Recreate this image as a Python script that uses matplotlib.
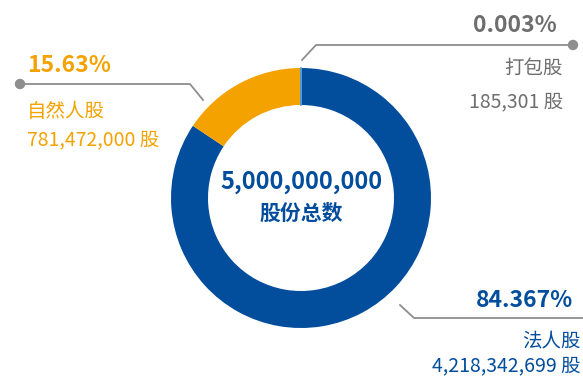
import matplotlib
matplotlib.use("Agg")
import matplotlib.pyplot as plt
from matplotlib.patches import Circle

plt.rcParams['font.family'] = ['Noto Sans CJK SC', 'DejaVu Sans']

# ── Data ────────────────────────────────────────────────────────────────────
categories = ["打包股", "法人股", "自然人股"]
shares = [185301, 4218342699, 781472000]
share_labels = ["185,301 股", "4,218,342,699 股", "781,472,000 股"]
pct_labels = ["0.003%", "84.367%", "15.63%"]
total_label = "5,000,000,000"
total_title = "股份总数"

BLUE = "#024d9c"
ORANGE = "#f4a200"
LIGHT = "#4f9bd6"
GRAY_TXT = "#6e6e6e"
GRAY_LINE = "#8e8e8e"
colors = [LIGHT, BLUE, ORANGE]
text_colors = [GRAY_TXT, BLUE, ORANGE]

W, H = 583, 376
fig = plt.figure(figsize=(W / 100, H / 100), dpi=100)
ax = fig.add_axes([0, 0, 1, 1])
ax.axis("off")

def Y(y):  # pixel-from-top -> axis y
    return H - y

cx, cy, r_out, ring = 301, Y(198), 130, 37
wedges, _ = ax.pie(shares, colors=colors, startangle=90, counterclock=False,
                   radius=r_out, center=(cx, cy),
                   wedgeprops=dict(width=ring, linewidth=0))
ax.set_xlim(0, W)
ax.set_ylim(0, H)
ax.set_aspect("equal")
# tiny slice: draw its edge so it shows as a thin line
wedges[0].set_edgecolor(LIGHT)
wedges[0].set_linewidth(1.2)
wedges[0].set_zorder(3)

# ── Centre text ─────────────────────────────────────────────────────────────
ax.text(cx, Y(189), total_label, color=BLUE, fontsize=17, fontweight="bold",
        ha="center", va="baseline")
ax.text(cx, Y(220), total_title, color=BLUE, fontsize=15, fontweight="bold",
        ha="center", va="baseline")

# ── Leader lines ────────────────────────────────────────────────────────────
lw = 1.3
# top right (打包股)
ax.plot([302, 316, 573], [Y(60), Y(45), Y(45)], color=GRAY_LINE, lw=lw)
ax.add_patch(Circle((573, Y(45)), 4.5, color=GRAY_LINE, zorder=3))
# left (自然人股)
ax.plot([203, 190, 20], [Y(100), Y(84), Y(84)], color=GRAY_LINE, lw=lw)
ax.add_patch(Circle((20, Y(84)), 4.5, color=GRAY_LINE, zorder=3))
# bottom right (法人股)
ax.plot([400, 414, 583], [Y(305), Y(318), Y(318)], color=GRAY_LINE, lw=lw)

# ── Labels ──────────────────────────────────────────────────────────────────
PCT_SIZE, LBL_SIZE = 16.5, 14
# 打包股
ax.text(557, Y(32), pct_labels[0], color=text_colors[0], fontsize=PCT_SIZE,
        fontweight="bold", ha="right", va="baseline")
ax.text(563, Y(74), categories[0], color=text_colors[0], fontsize=LBL_SIZE,
        ha="right", va="baseline")
ax.text(563, Y(107), share_labels[0], color=text_colors[0], fontsize=LBL_SIZE,
        ha="right", va="baseline")
# 法人股
ax.text(573, Y(307), pct_labels[1], color=text_colors[1], fontsize=PCT_SIZE,
        fontweight="bold", ha="right", va="baseline")
ax.text(581, Y(346), categories[1], color=text_colors[1], fontsize=LBL_SIZE,
        ha="right", va="baseline")
ax.text(581, Y(371), share_labels[1], color=text_colors[1], fontsize=LBL_SIZE,
        ha="right", va="baseline")
# 自然人股
ax.text(27, Y(72), pct_labels[2], color=text_colors[2], fontsize=PCT_SIZE,
        fontweight="bold", ha="left", va="baseline")
ax.text(27, Y(117), categories[2], color=text_colors[2], fontsize=LBL_SIZE,
        ha="left", va="baseline")
ax.text(27, Y(145), share_labels[2], color=text_colors[2], fontsize=LBL_SIZE,
        ha="left", va="baseline")

fig.savefig("out.png", dpi=100, facecolor="white")
